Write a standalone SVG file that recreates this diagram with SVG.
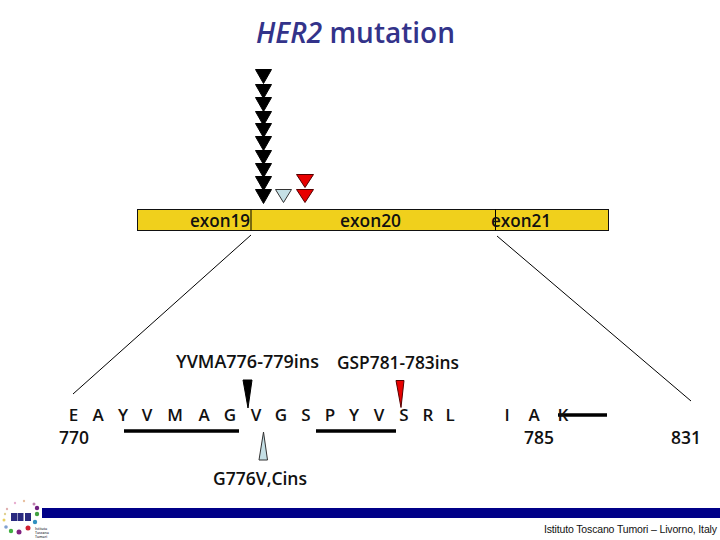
<svg xmlns="http://www.w3.org/2000/svg" width="720" height="540" viewBox="0 0 720 540">
<style>
text{font-family:"Open Sans","Noto Sans","Liberation Sans",sans-serif;fill:#111;font-size:18px;font-weight:600}
.t{fill:#33338a;font-size:28px;font-weight:600}
.ex{font-size:18.500px}
.aa{text-anchor:middle;font-size:17px}
.ln{stroke:#000;stroke-width:1;fill:none}
.bar{stroke:#000;stroke-width:3.500;fill:none}
.k{fill:#000;stroke:#000}
.b{fill:#c5e0e6;stroke:#333}
.r{fill:#e80000;stroke:#500}
</style>
<rect width="720" height="540" fill="#fff"/>
<text class="t" x="256" y="43" textLength="199" lengthAdjust="spacingAndGlyphs"><tspan font-style="italic">HER2</tspan> mutation</text>
<g id="exon-bar">
<rect x="137.500" y="209.500" width="471" height="21" fill="#f0d01c" stroke="#111"/>
<path class="ln" d="M251 209.500V230.500M495.500 209.500V230.500"/>
<text class="ex" x="190" y="226.500" textLength="60" lengthAdjust="spacingAndGlyphs">exon19</text>
<text class="ex" x="340" y="226.500" textLength="61" lengthAdjust="spacingAndGlyphs">exon20</text>
<text class="ex" x="491" y="226.500" textLength="60" lengthAdjust="spacingAndGlyphs">exon21</text>
</g>
<g id="markers">
<path class="k" d="M255.500 69.500h16l-8 14zM255.500 84.500h16l-8 14zM255.500 97.500h16l-8 14zM255.500 111.500h16l-8 14zM255.500 123.500h16l-8 14zM255.500 136.500h16l-8 14zM255.500 150.500h16l-8 14zM255.500 163.500h16l-8 14zM255.500 176.500h16l-8 14zM255.500 189.500h16l-8 14z"/>
<path class="b" d="M275.500 189.500h16l-8 13z"/>
<path class="r" d="M296.500 174.500h17l-8.500 13zM296.500 189.500h17l-8.500 13z"/>
<path class="k" d="M243 380h9l-4 28z"/>
<path class="r" d="M396 380.500h8l-3 27z"/>
<path class="b" d="M259 460h8.500l-4-28z"/>
</g>
<g id="connectors">
<path class="ln" d="M251 235L73 394M497 236L691 401"/>
<path class="bar" d="M124 431H239M316 431H396M558 415H607"/>
</g>
<g id="labels">
<text x="176" y="368" textLength="143" lengthAdjust="spacingAndGlyphs">YVMA776-779ins</text>
<text x="337" y="369" textLength="122" lengthAdjust="spacingAndGlyphs">GSP781-783ins</text>
<text class="aa" x="73.500" y="421">E</text>
<text class="aa" x="98" y="421">A</text>
<text class="aa" x="123" y="421">Y</text>
<text class="aa" x="147" y="421">V</text>
<text class="aa" x="175" y="421">M</text>
<text class="aa" x="204" y="421">A</text>
<text class="aa" x="230" y="421">G</text>
<text class="aa" x="256" y="421">V</text>
<text class="aa" x="281" y="421">G</text>
<text class="aa" x="306" y="421">S</text>
<text class="aa" x="330" y="421">P</text>
<text class="aa" x="354" y="421">Y</text>
<text class="aa" x="379" y="421">V</text>
<text class="aa" x="404" y="421">S</text>
<text class="aa" x="428" y="421">R</text>
<text class="aa" x="450" y="421">L</text>
<text class="aa" x="507" y="421">I</text>
<text class="aa" x="534" y="421">A</text>
<text class="aa" x="563" y="421">K</text>
<text x="59" y="444" textLength="30" lengthAdjust="spacingAndGlyphs">770</text>
<text x="524" y="444" textLength="30" lengthAdjust="spacingAndGlyphs">785</text>
<text x="671" y="444" textLength="30" lengthAdjust="spacingAndGlyphs">831</text>
<text x="213" y="485" textLength="94" lengthAdjust="spacingAndGlyphs">G776V,Cins</text>
</g>
<g id="footer">
<rect x="42" y="508" width="678" height="10" fill="#000088"/>
<text x="544" y="533" style="font-family:'Liberation Sans',sans-serif;font-size:10.500px;font-weight:400" textLength="173" lengthAdjust="spacing">Istituto Toscano Tumori – Livorno, Italy</text>
</g>
<g id="logo">
<rect x="11" y="513" width="6" height="8" fill="#2a2a80"/><rect x="17.500" y="513" width="6" height="8" fill="#2a2a80"/><rect x="25" y="513" width="6" height="8" fill="#2a2a80"/>
<circle cx="15" cy="503" r="1.200" fill="#e8b0d0"/><circle cx="24" cy="501" r="1.200" fill="#e8c0a0"/><circle cx="34" cy="504" r="1.500" fill="#c080b0"/><circle cx="37" cy="508" r="2.200" fill="#702080"/>
<circle cx="37" cy="514" r="2.200" fill="#40a040"/><circle cx="35" cy="522" r="2.200" fill="#3090c0"/><circle cx="28" cy="528" r="2.500" fill="#d02030"/><circle cx="19" cy="532" r="2.500" fill="#802080"/>
<circle cx="11" cy="531" r="2.200" fill="#40b040"/><circle cx="6" cy="527" r="1.800" fill="#80a0d0"/><circle cx="4" cy="520" r="1.500" fill="#e8d060"/><circle cx="5" cy="514" r="1.200" fill="#e0d090"/><circle cx="7" cy="509" r="1.200" fill="#e0b0b0"/>
<text x="35" y="530" style="font-size:3.500px;fill:#334">Istituto</text><text x="35" y="534" style="font-size:3.500px;fill:#334">Toscano</text><text x="35" y="538" style="font-size:3.500px;fill:#334">Tumori</text>
</g>
</svg>
